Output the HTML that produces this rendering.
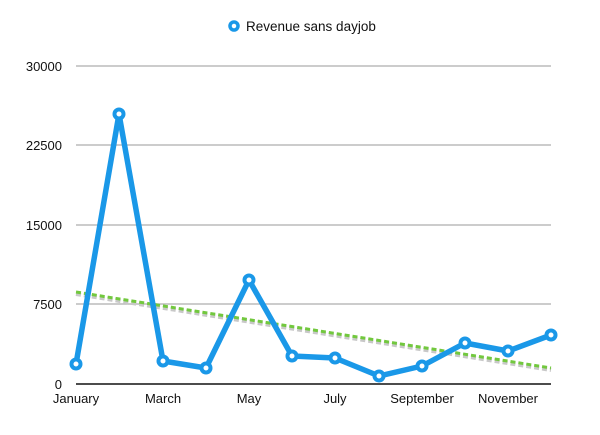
<!DOCTYPE html>
<html><head><style>body{margin:0;background:#fff}svg{display:block}</style></head><body>
<svg width="600" height="435" xmlns="http://www.w3.org/2000/svg" font-family="Liberation Sans, sans-serif" font-size="13" fill="#111">
<circle cx="234" cy="26" r="4" fill="#fff" stroke="#1a98e8" stroke-width="3.5"/>
<text x="246" y="31" font-size="13.5">Revenue sans dayjob</text>
<g stroke="#bbb" stroke-width="1.5">
<line x1="76" y1="66" x2="551" y2="66"/><line x1="76" y1="145" x2="551" y2="145"/><line x1="76" y1="225" x2="551" y2="225"/><line x1="76" y1="304" x2="551" y2="304"/>
</g>
<line x1="76" y1="384" x2="551" y2="384" stroke="#111" stroke-width="1.5"/>
<g text-anchor="end"><text x="62" y="71">30000</text><text x="62" y="150">22500</text><text x="62" y="230">15000</text><text x="62" y="309">7500</text><text x="62" y="389">0</text></g>
<g text-anchor="middle"><text x="76" y="403">January</text><text x="163" y="403">March</text><text x="249" y="403">May</text><text x="335" y="403">July</text><text x="422" y="403">September</text><text x="508" y="403">November</text></g>
<line x1="76" y1="294" x2="551" y2="370" stroke="#c8c8c8" stroke-width="4" stroke-dasharray="5,3"/>
<line x1="76" y1="292" x2="551" y2="368" stroke="#72c83e" stroke-width="3" stroke-dasharray="5,3"/>
<polyline fill="none" stroke="#1a98e8" stroke-width="5.5" stroke-linejoin="round" points="76,364 119,114 163,361 206,368 249,280 292,356 335,358 379,376 422,366 465,343 508,351 551,335"/>
<g fill="#fff" stroke="#1a98e8" stroke-width="4">
<circle cx="76" cy="364" r="4.5"/><circle cx="119" cy="114" r="4.5"/><circle cx="163" cy="361" r="4.5"/><circle cx="206" cy="368" r="4.5"/><circle cx="249" cy="280" r="4.5"/><circle cx="292" cy="356" r="4.5"/><circle cx="335" cy="358" r="4.5"/><circle cx="379" cy="376" r="4.5"/><circle cx="422" cy="366" r="4.5"/><circle cx="465" cy="343" r="4.5"/><circle cx="508" cy="351" r="4.5"/><circle cx="551" cy="335" r="4.5"/>
</g>
</svg>
</body></html>
